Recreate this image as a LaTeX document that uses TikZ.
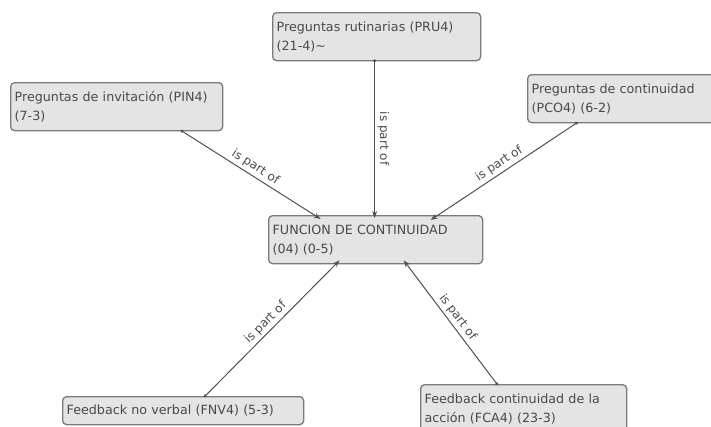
\documentclass[tikz,border=0pt]{standalone}
\usepackage{fontspec}
\setmainfont{DejaVu Sans}
\usetikzlibrary{arrows.meta}
\definecolor{boxfill}{HTML}{E4E4E4}
\definecolor{boxline}{HTML}{7A7A7A}
\definecolor{inktext}{HTML}{4A4A4A}
\definecolor{linkline}{HTML}{505050}
\tikzset{
  concept/.style={draw=boxline, fill=boxfill, line width=1.3pt, rounded corners=4pt,
    anchor=north west, align=left, inner xsep=4pt, inner ysep=3pt,
    font=\fontsize{12.7}{19}\selectfont, text=inktext},
  link/.style={draw=linkline, line width=1pt,
    {Circle[length=3pt]}-{Stealth[length=7pt,width=5pt]}},
  linklabel/.style={sloped, above, font=\fontsize{12}{13}\selectfont, text=inktext, inner sep=2.5pt}
}
\begin{document}
\begin{tikzpicture}[x=1pt,y=-1pt]
  \useasboundingbox (0,0) rectangle (711,426);
  \clip (0,0) rectangle (711,426);

  % concept boxes
  \node[concept, text width=200pt, minimum height=48pt] (pru) at (272,12)
    {Preguntas rutinarias (PRU4)\\(21-4)\textasciitilde};
  \node[concept, text width=204pt, minimum height=48pt] (pin) at (10,82)
    {Preguntas de invitación (PIN4)\\(7-3)};
  \node[concept, text width=200pt, minimum height=48pt] (pco) at (527,74)
    {Preguntas de continuidad\\(PCO4) (6-2)};
  \node[concept, text width=206pt, minimum height=48pt] (fc) at (268,215)
    {FUNCION DE CONTINUIDAD\\(04) (0-5)};
  \node[concept, text width=233pt, minimum height=28pt, inner ysep=2pt] (fnv) at (62,396)
    {Feedback no verbal (FNV4) (5-3)};
  \node[concept, text width=198pt, minimum height=48pt] (fca) at (420,384)
    {Feedback continuidad de la\\acción (FCA4) (23-3)};

  % "is part of" links
  \draw[link] ([xshift=-2pt,yshift=2pt]pru.south) -- node[linklabel]{is part of} ([xshift=-1pt,yshift=-3pt]fc.north);
  \draw[link] ([xshift=64pt,yshift=1pt]pin.south) -- node[linklabel]{is part of} ([xshift=-55pt,yshift=-4pt]fc.north);
  \draw[link] ([xshift=-54pt,yshift=1pt]pco.south) -- node[linklabel]{is part of} ([xshift=55pt,yshift=-5pt]fc.north);
  \draw[link] ([xshift=21pt,yshift=-1pt]fnv.north) -- node[linklabel]{is part of} ([xshift=-36pt,yshift=4pt]fc.south);
  \draw[link] ([xshift=-26pt,yshift=-1pt]fca.north) -- node[linklabel]{is part of} ([xshift=28pt,yshift=4pt]fc.south);
\end{tikzpicture}
\end{document}
